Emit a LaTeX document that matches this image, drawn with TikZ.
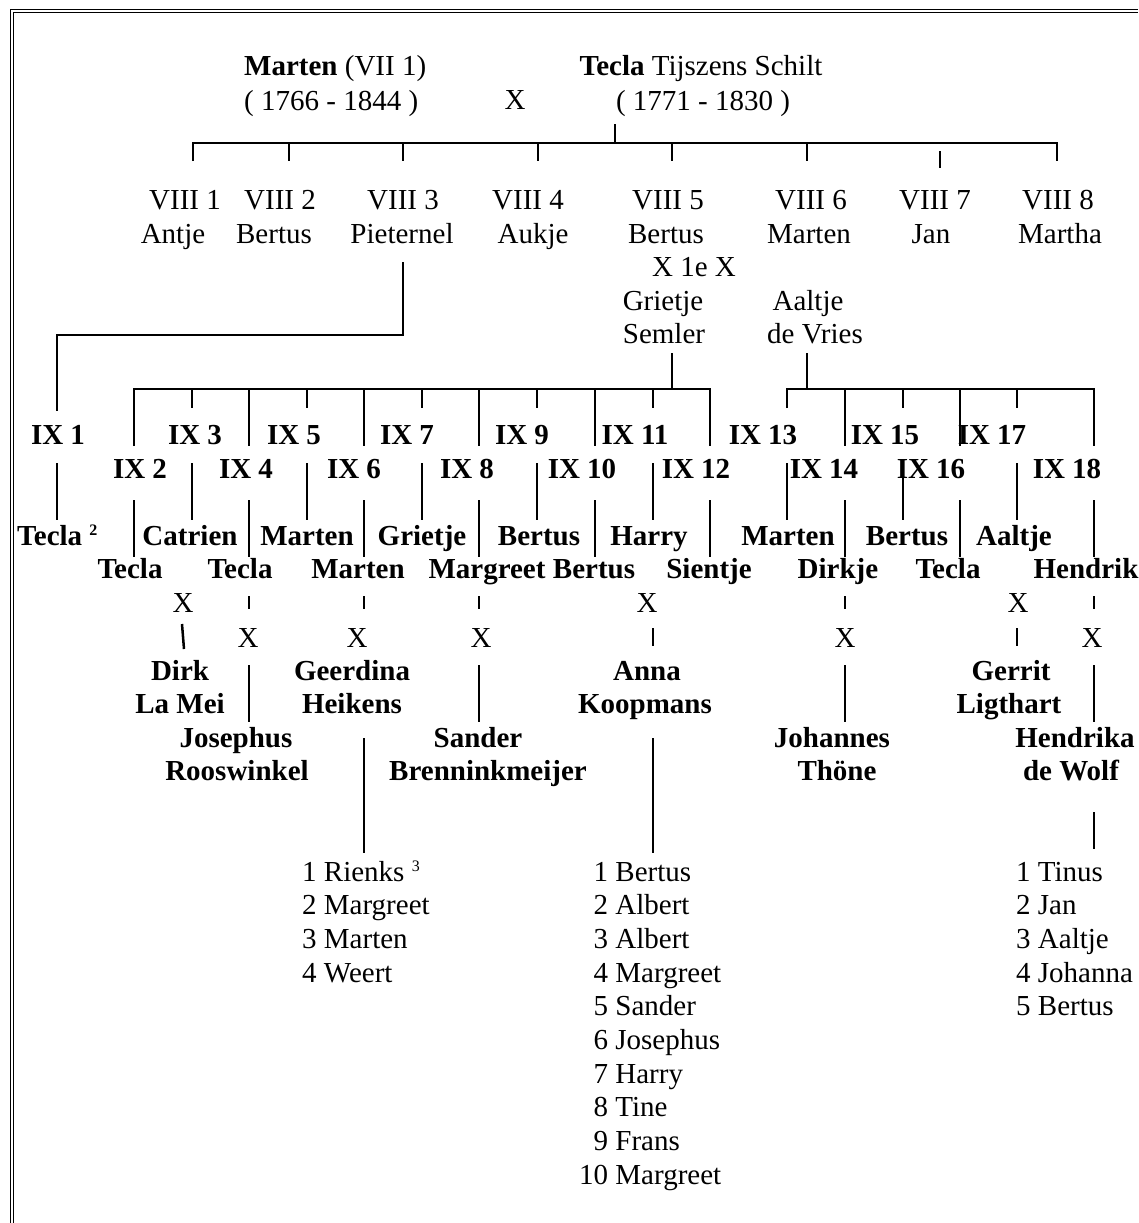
\documentclass[tikz,border=0pt]{standalone}
\usepackage{fontspec}
\setmainfont{Liberation Serif}
\newcommand{\smallsup}[1]{\raisebox{10pt}{\fontsize{16}{16}\selectfont #1}}
\begin{document}
\begin{tikzpicture}[x=1pt,y=-1pt,
  t/.style={font=\fontsize{29}{33.7}\selectfont, inner sep=0pt, anchor=base},
  b/.style={t, font=\fontsize{29}{33.7}\selectfont\bfseries},
  ln/.style={line width=2.5pt},
  frame/.style={line width=1pt}]
\useasboundingbox (0,0) rectangle (1138,1223);
% page frame (double line, top and left)
\draw[frame] (10.5,1223) -- (10.5,10) -- (1138,10);
\draw[frame] (13.3,1223) -- (13.3,12.6) -- (1138,12.6);

% ---- generation VII ----
\node[t, anchor=base west] (mH1) at (244,76) {\textbf{Marten} (VII 1)};
\node[t, anchor=base west] (mH2) at (244,110) {( 1766 - 1844 )};
\node[t] (mX) at (515,109) {X};
\node[t] (tH1) at (701,75.5) {\textbf{Tecla} Tijszens Schilt};
\node[t] (tH2) at (703,110) {( 1771 - 1830 )};

\draw[ln] (615,124) -- (615,143);
\draw[ln] (193,161) -- (193,143) -- (1057,143) -- (1057,161);
\foreach \xx in {289,403,538,672,807} \draw[ln] (\xx,143) -- (\xx,161);
\draw[ln] (940,151) -- (940,168);

% ---- generation VIII ----
\node[t] (v1) at (185,209.5) {VIII 1};
\node[t] (v2) at (280,209.5) {VIII 2};
\node[t] (v3) at (403,209.5) {VIII 3};
\node[t] (v4) at (528,209.5) {VIII 4};
\node[t] (v5) at (668,209.5) {VIII 5};
\node[t] (v6) at (811,209.5) {VIII 6};
\node[t] (v7) at (935,209.5) {VIII 7};
\node[t] (v8) at (1058,209.5) {VIII 8};
\node[t] (n1) at (173,243.5) {Antje};
\node[t] (n2) at (274,243.5) {Bertus};
\node[t] (n3) at (402,243.5) {Pieternel};
\node[t] (n4) at (533,243.5) {Aukje};
\node[t] (n5) at (666,243.5) {Bertus};
\node[t] (n6) at (809,243.5) {Marten};
\node[t] (n7) at (931,243.5) {Jan};
\node[t] (n8) at (1060,243.5) {Martha};
\node[t] (x1e) at (694,276) {X 1e X};
\node[t] (gs1) at (663,310.5) {Grietje};
\node[t] (gs2) at (664,343) {Semler};
\node[t] (av1) at (808,310.5) {Aaltje};
\node[t] (av2) at (815,343) {de Vries};

% Pieternel -> IX 1
\draw[ln] (403,262) -- (403,335) -- (57,335) -- (57,411);
\draw[ln] (57,463) -- (57,520);

% Semler children bus
\draw[ln] (672,353) -- (672,389);
\draw[ln] (134,446) -- (134,389) -- (710,389) -- (710,446);
\foreach \xx in {249,364,479,595} \draw[ln] (\xx,389) -- (\xx,446);
\foreach \xx in {192,307,422,537,653} \draw[ln] (\xx,389) -- (\xx,408);

% de Vries children bus
\draw[ln] (807,353) -- (807,389);
\draw[ln] (787,408) -- (787,389) -- (1094,389) -- (1094,446);
\foreach \xx in {845,960} \draw[ln] (\xx,389) -- (\xx,446);
\foreach \xx in {903,1017} \draw[ln] (\xx,389) -- (\xx,408);

% second segments
\foreach \xx in {192,307,422,537,653,787,903,1017} \draw[ln] (\xx,463) -- (\xx,520);
\foreach \xx in {134,249,364,479,595,710,845,960,1094} \draw[ln] (\xx,500) -- (\xx,557);

% ---- generation IX labels ----
\node[b] (ix1) at (58,444) {IX 1};
\node[b] (ix3) at (195,444) {IX 3};
\node[b] (ix5) at (294,444) {IX 5};
\node[b] (ix7) at (407,444) {IX 7};
\node[b] (ix9) at (522,444) {IX 9};
\node[b] (ix11) at (635,444) {IX 11};
\node[b] (ix13) at (763,444) {IX 13};
\node[b] (ix15) at (885,444) {IX 15};
\node[b] (ix17) at (992,444) {IX 17};
\node[b] (ix2) at (140,478) {IX 2};
\node[b] (ix4) at (246,478) {IX 4};
\node[b] (ix6) at (354,478) {IX 6};
\node[b] (ix8) at (467,478) {IX 8};
\node[b] (ix10) at (582,478) {IX 10};
\node[b] (ix12) at (696,478) {IX 12};
\node[b] (ix14) at (824,478) {IX 14};
\node[b] (ix16) at (931,478) {IX 16};
\node[b] (ix18) at (1067,478) {IX 18};

% names row 1
\node[b, anchor=base west] (m1) at (17,545) {Tecla \smallsup{2}};
\node[b] (m3) at (190,545) {Catrien};
\node[b] (m5) at (307,545) {Marten};
\node[b] (m7) at (422,545) {Grietje};
\node[b] (m9) at (539,545) {Bertus};
\node[b] (m11) at (649,545) {Harry};
\node[b] (m13) at (788,545) {Marten};
\node[b] (m15) at (907,545) {Bertus};
\node[b] (m17) at (1014,545) {Aaltje};
% names row 2
\node[b] (m2) at (130,578) {Tecla};
\node[b] (m4) at (240,578) {Tecla};
\node[b] (m6) at (358,578) {Marten};
\node[b] (m8) at (487,578) {Margreet};
\node[b] (m10) at (594,578) {Bertus};
\node[b] (m12) at (709,578) {Sientje};
\node[b] (m14) at (838,578) {Dirkje};
\node[b] (m16) at (948,578) {Tecla};
\node[b] (m18) at (1086,578) {Hendrik};

% marriages
\node[t] (xa2) at (183,612) {X};
\node[t] (xa11) at (647,612) {X};
\node[t] (xa17) at (1018,612) {X};
\node[t] (xb4) at (248,647) {X};
\node[t] (xb6) at (357,647) {X};
\node[t] (xb8) at (481,647) {X};
\node[t] (xb14) at (845,647) {X};
\node[t] (xb18) at (1092,647) {X};

\draw[ln] (182,624) -- (184,649);
\draw[ln] (653,628) -- (653,646);
\draw[ln] (1017,628) -- (1017,646);
\foreach \xx in {249,364,479,845,1094} \draw[ln] (\xx,596) -- (\xx,609);
\foreach \xx in {249,479,845,1094} \draw[ln] (\xx,665) -- (\xx,722);
\draw[ln] (364,738) -- (364,853);
\draw[ln] (653,738) -- (653,853);
\draw[ln] (1094,812) -- (1094,849);

% spouses
\node[b] (s2a) at (180,680) {Dirk};
\node[b] (s2b) at (180,713) {La Mei};
\node[b] (s4a) at (236,747) {Josephus};
\node[b] (s4b) at (237,780) {Rooswinkel};
\node[b] (s6a) at (352,680) {Geerdina};
\node[b] (s6b) at (352,713) {Heikens};
\node[b] (s8a) at (478,747) {Sander};
\node[b] (s8b) at (488,780) {Brenninkmeijer};
\node[b] (s11a) at (647,680) {Anna};
\node[b] (s11b) at (645,713) {Koopmans};
\node[b] (s14a) at (832,747) {Johannes};
\node[b] (s14b) at (837,780) {Thöne};
\node[b] (s17a) at (1011,680) {Gerrit};
\node[b] (s17b) at (1009,713) {Ligthart};
\node[b] (s18a) at (1075,747) {Hendrika};
\node[b] (s18b) at (1071,780) {de Wolf};

% children lists
\node[t, anchor=base west] (k6) at (302,881) {\begin{tabular}[t]{@{}l@{}}
1 Rienks \smallsup{3}\\ 2 Margreet\\ 3 Marten\\ 4 Weert\end{tabular}};
\node[t, anchor=base west] (k11) at (579,881) {\begin{tabular}[t]{@{}r@{ }l@{}}
1 & Bertus\\ 2 & Albert\\ 3 & Albert\\ 4 & Margreet\\ 5 & Sander\\
6 & Josephus\\ 7 & Harry\\ 8 & Tine\\ 9 & Frans\\ 10 & Margreet\end{tabular}};
\node[t, anchor=base west] (k18) at (1016,881) {\begin{tabular}[t]{@{}l@{}}
1 Tinus\\ 2 Jan\\ 3 Aaltje\\ 4 Johanna\\ 5 Bertus\end{tabular}};
\end{tikzpicture}
\end{document}
